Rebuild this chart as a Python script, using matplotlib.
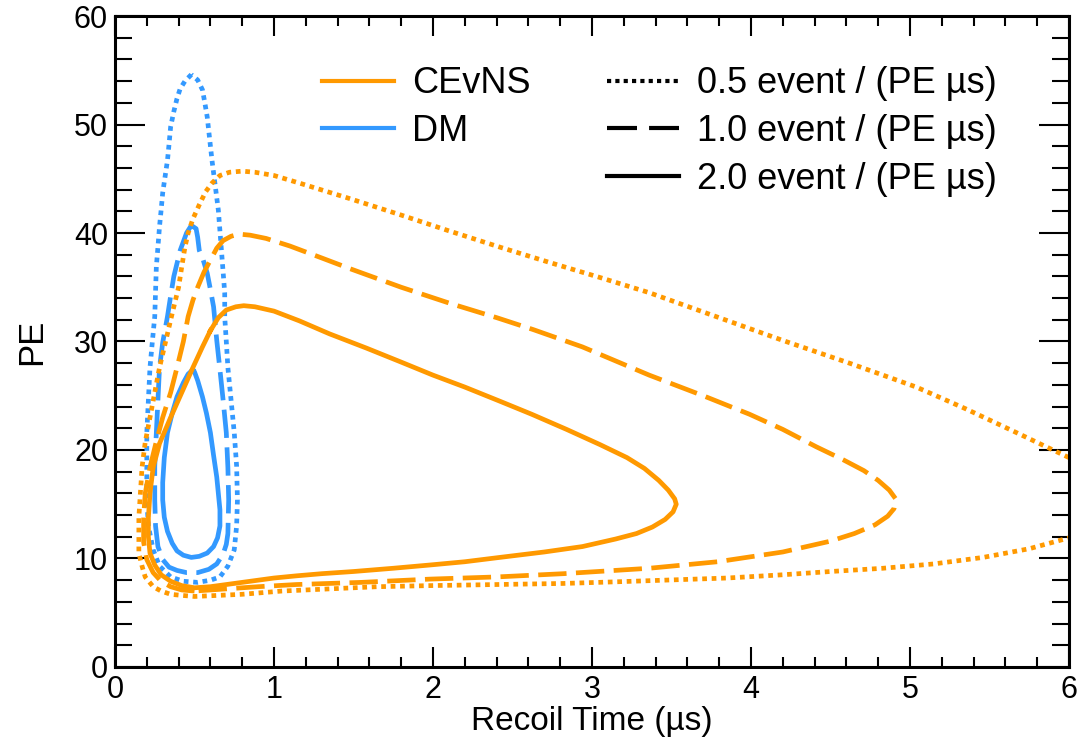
import matplotlib
matplotlib.use("Agg")
import matplotlib.pyplot as plt
from matplotlib.lines import Line2D

plt.rcParams['font.family'] = ['Liberation Sans', 'DejaVu Sans']

ORANGE = '#ff9900'
BLUE = '#3399ff'

# CEvNS contours (recoil time in us, PE)
cevns_2p0_x = [0.60, 0.65, 0.70, 0.76, 0.81, 0.88, 1.00, 1.16, 1.35, 1.58, 1.80, 2.00, 2.20, 2.42,
               2.62, 2.84, 3.05, 3.22, 3.33, 3.42, 3.48, 3.52, 3.53, 3.51, 3.46, 3.38, 3.28, 3.15,
               2.94, 2.70, 2.42, 2.20, 1.98, 1.75, 1.50, 1.30, 1.14, 1.00, 0.90, 0.80, 0.70, 0.60,
               0.50, 0.42, 0.35, 0.29, 0.25, 0.22, 0.21, 0.21, 0.22, 0.24, 0.28, 0.35, 0.42, 0.49,
               0.55, 0.60]
cevns_2p0_y = [31.0, 32.2, 32.9, 33.2, 33.3, 33.2, 32.8, 31.9, 30.7, 29.4, 28.1, 26.9, 25.8, 24.5,
               23.3, 21.9, 20.5, 19.3, 18.3, 17.2, 16.3, 15.5, 15.0, 14.3, 13.6, 12.9, 12.3, 11.8,
               11.1, 10.6, 10.1, 9.7, 9.4, 9.1, 8.8, 8.6, 8.4, 8.2, 8.0, 7.8, 7.6, 7.4,
               7.3, 7.5, 7.9, 8.5, 9.4, 10.5, 12.0, 13.8, 16.0, 18.4, 20.6, 23.0, 25.3, 27.6,
               29.5, 31.0]

cevns_1p0_x = [0.50, 0.42, 0.35, 0.29, 0.24, 0.20, 0.18, 0.18, 0.19, 0.22, 0.26, 0.30, 0.35, 0.39,
               0.43, 0.46, 0.49, 0.52, 0.56, 0.60, 0.64, 0.68, 0.73, 0.78, 0.85, 0.95, 1.10, 1.30,
               1.48, 1.80, 2.11, 2.40, 2.63, 2.94, 3.15, 3.36, 3.70, 3.99, 4.20, 4.41, 4.58, 4.71,
               4.80, 4.87, 4.91, 4.90, 4.86, 4.78, 4.65, 4.50, 4.20, 3.79, 3.36, 2.82, 2.40, 1.98,
               1.55, 1.14, 0.90, 0.70, 0.50]
cevns_1p0_y = [7.0, 7.1, 7.4, 7.9, 8.7, 9.9, 11.5, 13.8, 16.0, 18.4, 20.8, 23.0, 25.3, 27.6,
               30.0, 32.3, 33.8, 35.0, 36.4, 37.5, 38.6, 39.3, 39.7, 39.9, 39.8, 39.5, 38.8, 37.7,
               36.7, 35.0, 33.5, 32.2, 31.1, 29.5, 28.2, 26.9, 25.0, 23.3, 21.9, 20.3, 19.1, 18.1,
               17.2, 16.3, 15.5, 14.6, 13.9, 13.1, 12.3, 11.6, 10.6, 9.7, 9.1, 8.6, 8.3, 8.1,
               7.8, 7.6, 7.4, 7.2, 7.0]

cevns_0p5_x = [6.00, 5.67, 5.35, 5.04, 4.62, 4.20, 3.78, 3.36, 3.05, 2.73, 2.42, 2.10, 1.79, 1.47,
               1.16, 1.00, 0.88, 0.80, 0.72, 0.66, 0.61, 0.57, 0.53, 0.49, 0.46, 0.44, 0.42, 0.40,
               0.36, 0.32, 0.28, 0.25, 0.22, 0.19, 0.17, 0.16, 0.15, 0.15, 0.15, 0.17, 0.19, 0.24,
               0.29, 0.35, 0.42, 0.50, 0.65, 0.80, 1.05, 1.35, 1.65, 1.98, 2.40, 2.82, 3.15, 3.45,
               3.85, 4.20, 4.50, 4.83, 5.15, 5.46, 5.75, 6.00]
cevns_0p5_y = [19.3, 21.6, 23.8, 25.8, 28.0, 30.1, 32.3, 34.5, 35.9, 37.3, 38.7, 40.2, 41.7, 43.2,
               44.6, 45.3, 45.6, 45.7, 45.6, 45.3, 44.6, 43.8, 42.6, 41.3, 40.0, 38.7, 36.9, 35.0,
               32.6, 30.1, 27.6, 25.3, 23.0, 20.7, 18.4, 16.1, 13.8, 12.0, 10.5, 9.3, 8.3, 7.4,
               7.0, 6.7, 6.6, 6.5, 6.6, 6.7, 7.0, 7.2, 7.4, 7.5, 7.6, 7.7, 7.85, 8.0,
               8.2, 8.5, 8.8, 9.1, 9.5, 10.1, 10.9, 11.9]

# DM contours
dm_2p0_x = [0.49, 0.46, 0.43, 0.39, 0.36, 0.33, 0.31, 0.30, 0.30, 0.31, 0.33, 0.36, 0.39, 0.43,
            0.48, 0.53, 0.58, 0.62, 0.645, 0.66, 0.66, 0.65, 0.64, 0.62, 0.60, 0.575, 0.55, 0.52,
            0.50, 0.49]
dm_2p0_y = [27.4, 27.0, 26.2, 24.9, 23.4, 21.6, 19.3, 17.0, 15.4, 13.8, 12.5, 11.4, 10.7, 10.3,
            10.1, 10.2, 10.5, 11.1, 11.9, 13.0, 14.5, 16.0, 17.5, 19.5, 21.6, 23.4, 24.9, 26.4,
            27.2, 27.4]

dm_1p0_x = [0.48, 0.45, 0.41, 0.37, 0.35, 0.33, 0.30, 0.28, 0.27, 0.26, 0.25, 0.25, 0.255, 0.27,
            0.30, 0.34, 0.39, 0.45, 0.52, 0.59, 0.64, 0.68, 0.70, 0.71, 0.715, 0.71, 0.70, 0.68,
            0.66, 0.64, 0.62, 0.60, 0.58, 0.555, 0.53, 0.52, 0.51, 0.48]
dm_1p0_y = [40.7, 40.0, 38.4, 36.0, 34.2, 32.3, 29.9, 27.6, 24.6, 21.6, 18.5, 15.4, 13.0, 11.1,
            9.9, 9.2, 8.9, 8.7, 8.7, 9.0, 9.5, 10.4, 11.3, 12.3, 15.4, 18.4, 21.6, 24.6,
            27.4, 30.1, 33.2, 34.8, 36.3, 37.5, 38.4, 39.6, 40.4, 40.7]

dm_0p5_x = [0.48, 0.44, 0.41, 0.39, 0.37, 0.35, 0.34, 0.33, 0.315, 0.30, 0.29, 0.28, 0.27, 0.26,
            0.255, 0.25, 0.235, 0.22, 0.21, 0.20, 0.20, 0.20, 0.21, 0.24, 0.28, 0.35, 0.43, 0.52,
            0.60, 0.66, 0.71, 0.75, 0.765, 0.77, 0.765, 0.75, 0.73, 0.71, 0.70, 0.69, 0.69, 0.67,
            0.65, 0.63, 0.61, 0.595, 0.58, 0.565, 0.55, 0.52, 0.48]
dm_0p5_y = [54.6, 54.0, 53.3, 52.4, 51.2, 49.8, 48.2, 46.7, 45.2, 43.7, 42.1, 40.6, 38.7, 36.9,
            34.6, 32.3, 30.0, 27.6, 24.6, 21.6, 18.5, 15.4, 13.0, 10.8, 9.3, 8.3, 7.9, 7.8,
            8.0, 8.3, 9.3, 10.8, 13.0, 15.4, 18.5, 21.6, 24.6, 27.6, 30.0, 32.3, 34.5, 38.3,
            42.1, 44.4, 46.7, 48.7, 50.7, 52.0, 53.2, 54.1, 54.6]

level_labels = ['0.5 event / (PE µs)', '1.0 event / (PE µs)', '2.0 event / (PE µs)']

LW = 3.4
DOT = (0, (1, 1))
DASH = (0, (6, 2))

fig = plt.figure(figsize=(10.88, 7.48), dpi=100)
ax = fig.add_axes([0.1057, 0.1083, 0.8768, 0.8703])

ax.plot(dm_0p5_x, dm_0p5_y, color=BLUE, lw=LW, ls=DOT)
ax.plot(dm_1p0_x, dm_1p0_y, color=BLUE, lw=LW, ls=DASH)
ax.plot(dm_2p0_x, dm_2p0_y, color=BLUE, lw=LW, ls='-')
ax.plot(cevns_0p5_x, cevns_0p5_y, color=ORANGE, lw=LW, ls=DOT)
ax.plot(cevns_1p0_x, cevns_1p0_y, color=ORANGE, lw=LW, ls=DASH)
ax.plot(cevns_2p0_x, cevns_2p0_y, color=ORANGE, lw=LW, ls='-')

ax.set_xlim(0, 6)
ax.set_ylim(0, 60)
ax.set_xticks(range(0, 7))
ax.set_yticks(range(0, 61, 10))
ax.set_xticks([i * 0.2 for i in range(31)], minor=True)
ax.set_yticks(range(0, 61, 2), minor=True)
ax.set_xticklabels([str(i) for i in range(0, 7)])

for s in ax.spines.values():
    s.set_linewidth(2.2)
ax.tick_params(which='both', direction='in', top=True, right=True, width=1.5, labelsize=22)
ax.tick_params(axis='x', which='major', length=14.4, pad=6)
ax.tick_params(axis='x', which='minor', length=7.2)
ax.tick_params(axis='y', which='major', length=21.6, pad=5)
ax.tick_params(axis='y', which='minor', length=12)

ax.set_xlabel('Recoil Time (µs)', fontsize=24)
ax.set_ylabel('PE', fontsize=25)
ax.xaxis.set_label_coords(0.5, -0.060)
ax.yaxis.set_label_coords(-0.070, 0.5)

FS = 26
sample_handles = [Line2D([], [], color=ORANGE, lw=3), Line2D([], [], color=BLUE, lw=3)]
leg1 = ax.legend(sample_handles, ['CEvNS', 'DM'], loc='upper left',
                 bbox_to_anchor=(0.2018, 0.945), frameon=False, fontsize=FS,
                 handlelength=2.0, handletextpad=0.5, labelspacing=0.35, borderaxespad=0)
ax.add_artist(leg1)

style_handles = [Line2D([], [], color='black', lw=3, ls=(0, (1, 1))),
                 Line2D([], [], color='black', lw=3, ls=(0, (7.2, 2.9))),
                 Line2D([], [], color='black', lw=3, ls='-')]
ax.legend(style_handles, level_labels, loc='upper left',
          bbox_to_anchor=(0.5006, 0.945), frameon=False, fontsize=FS,
          handlelength=2.0, handletextpad=0.5, labelspacing=0.35, borderaxespad=0)

fig.savefig('out.png', dpi=100)
